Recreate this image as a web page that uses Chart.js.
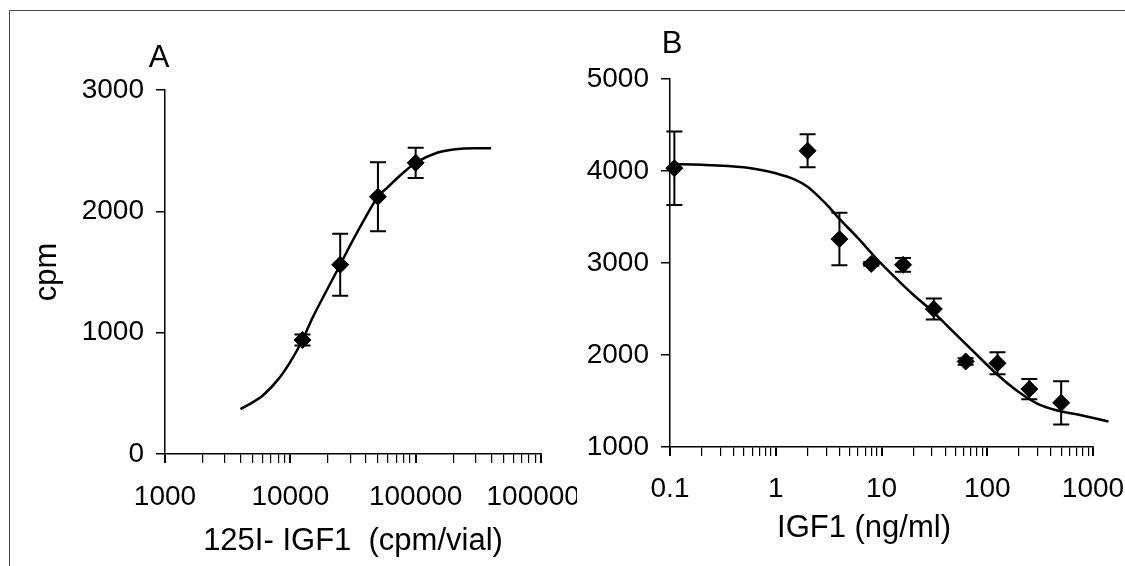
<!DOCTYPE html>
<html>
<head>
<meta charset="utf-8">
<script src="https://cdn.jsdelivr.net/npm/chart.js@4.4.0/dist/chart.umd.min.js"></script>
<style>
    html, body { margin: 0; padding: 0; background: #fff; }
    body { width: 1125px; height: 566px; position: relative; overflow: hidden; }
    .frame { position: absolute; left: 9px; top: 10px; right: 0; bottom: 0; border-top: 1.5px solid #4d4d4d; border-left: 1.5px solid #4d4d4d; }
    #chartA { position: absolute; left: 0; top: 0; }
    #chartB { position: absolute; left: 577px; top: 0; }
</style>
</head>
<body>
<div class="frame"></div>
<canvas id="chartA" width="577" height="566"></canvas>
<canvas id="chartB" width="548" height="566"></canvas>
<script>
// Panel A - binding vs added tracer
const tracerDose = [12500, 25000, 50000, 100000];
const tracerCpm = [940, 1560, 2120, 2400];
const tracerErr = [45, 255, 285, 125];
const tracerFitX = [4000, 5000, 6000, 8000, 10000, 12500, 15000, 20000, 25000, 30000, 40000, 50000, 60000, 80000, 100000, 150000, 200000, 300000, 400000];
const tracerFitY = [370, 425, 480, 615, 760, 940, 1120, 1370, 1560, 1720, 1955, 2120, 2200, 2320, 2400, 2485, 2510, 2520, 2520];

// Panel B - displacement by unlabelled IGF1
const igfDose = [0.11, 2, 4, 8, 16, 31.25, 62.5, 125, 250, 500];
const igfCpm = [4030, 4220, 3260, 2990, 2980, 2500, 1930, 1910, 1630, 1480];
const igfErr = [400, 180, 285, 20, 75, 115, 35, 120, 110, 235];
const igfFitX = [0.1, 0.2, 0.5, 0.75, 1, 1.5, 2, 3, 4, 6, 8, 10, 15, 20, 30, 50, 80, 125, 200, 300, 450, 700, 1400];
const igfFitY = [4075, 4068, 4040, 4008, 3975, 3910, 3830, 3640, 3480, 3270, 3110, 2990, 2790, 2655, 2480, 2230, 2000, 1785, 1595, 1470, 1400, 1355, 1278];

// axis ticks
const xTicksA = [1000, 10000, 100000, 1000000];
const xLabelsA = ["1000", "10000", "100000", "1000000"];
const yTicksA = [0, 1000, 2000, 3000];
const xTicksB = [0.1, 1, 10, 100, 1000];
const xLabelsB = ["0.1", "1", "10", "100", "1000"];
const yTicksB = [1000, 2000, 3000, 4000, 5000];

const FONT = '"Liberation Sans", Arial, sans-serif';
Chart.defaults.font.family = FONT;
Chart.defaults.color = "#000";

// decades plus the 2..9 minor ticks in between
const logTicks = (decades) => {
    const out = [];
    decades.forEach((d, i) => {
        out.push({ value: d });
        if (i < decades.length - 1) {
            for (let m = 2; m <= 9; m++) out.push({ value: d * m });
        }
    });
    return out;
};

const errorBars = {
    id: "errorBars",
    afterDatasetsDraw(chart, args, opts) {
        const { ctx, scales: { x, y } } = chart;
        ctx.save();
        ctx.strokeStyle = "#000";
        ctx.lineWidth = 2;
        opts.xs.forEach((xv, i) => {
            const px = x.getPixelForValue(xv);
            const top = y.getPixelForValue(opts.ys[i] + opts.errs[i]);
            const bot = y.getPixelForValue(opts.ys[i] - opts.errs[i]);
            ctx.beginPath();
            ctx.moveTo(px, top); ctx.lineTo(px, bot);
            ctx.moveTo(px - 8, top); ctx.lineTo(px + 8, top);
            ctx.moveTo(px - 8, bot); ctx.lineTo(px + 8, bot);
            ctx.stroke();
        });
        ctx.restore();
    }
};

const panelText = {
    id: "panelText",
    afterDraw(chart, args, opts) {
        const ctx = chart.ctx;
        ctx.save();
        ctx.fillStyle = "#000";
        ctx.textAlign = "center";
        ctx.textBaseline = "middle";
        opts.items.forEach(t => {
            ctx.font = t.size + "px " + FONT;
            ctx.fillText(t.text, t.x, t.y);
        });
        ctx.restore();
    }
};

const makePanel = (canvasId, cfg) => {
    const isDecade = v => cfg.xTicks.includes(v);
    return new Chart(document.getElementById(canvasId), {
        type: "line",
        data: {
            datasets: [
                {
                    data: cfg.fitX.map((v, i) => ({ x: v, y: cfg.fitY[i] })),
                    borderColor: "#000",
                    borderWidth: 2.5,
                    pointRadius: 0,
                    cubicInterpolationMode: "monotone",
                    clip: false
                },
                {
                    data: cfg.xs.map((v, i) => ({ x: v, y: cfg.ys[i] })),
                    showLine: false,
                    pointStyle: "rectRot",
                    pointRadius: 8.5,
                    backgroundColor: "#000",
                    borderColor: "#000",
                    borderWidth: 1,
                    clip: false
                }
            ]
        },
        options: {
            responsive: false,
            animation: false,
            layout: { padding: { top: cfg.top, right: cfg.right, left: 0, bottom: 0 } },
            plugins: {
                legend: { display: false },
                tooltip: { enabled: false },
                errorBars: { xs: cfg.xs, ys: cfg.ys, errs: cfg.errs },
                panelText: { items: cfg.texts }
            },
            scales: {
                x: {
                    type: "logarithmic",
                    min: cfg.xTicks[0],
                    max: cfg.xTicks[cfg.xTicks.length - 1],
                    afterBuildTicks: s => { s.ticks = logTicks(cfg.xTicks); },
                    afterFit: s => { s.height = cfg.xHeight; s.paddingRight = 0; s.paddingLeft = 0; },
                    border: { display: true, color: "#000", width: 1.5 },
                    grid: {
                        drawOnChartArea: false,
                        drawTicks: true,
                        tickLength: 9,
                        color: "#000",
                        lineWidth: c => (c.tick && isDecade(c.tick.value)) ? 2 : 1.2
                    },
                    ticks: {
                        autoSkip: false,
                        maxRotation: 0,
                        minRotation: 0,
                        padding: cfg.xPad,
                        font: { size: 28 },
                        callback: v => {
                            const i = cfg.xTicks.indexOf(v);
                            return i >= 0 ? cfg.xLabels[i] : "";
                        }
                    },
                    title: cfg.xTitle
                },
                y: {
                    type: "linear",
                    min: cfg.yTicks[0],
                    max: cfg.yTicks[cfg.yTicks.length - 1],
                    afterBuildTicks: s => { s.ticks = cfg.yTicks.map(v => ({ value: v })); },
                    afterFit: s => { s.width = cfg.yWidth; },
                    border: { display: true, color: "#000", width: 1.5 },
                    grid: { drawOnChartArea: false, drawTicks: true, tickLength: 9, color: "#000", lineWidth: 1.5 },
                    ticks: { autoSkip: false, padding: 12, font: { size: 28 }, callback: v => String(v) },
                    title: cfg.yTitle
                }
            }
        },
        plugins: [errorBars, panelText]
    });
};

makePanel("chartA", {
    xs: tracerDose, ys: tracerCpm, errs: tracerErr,
    fitX: tracerFitX, fitY: tracerFitY,
    xTicks: xTicksA, xLabels: xLabelsA, yTicks: yTicksA,
    top: 90, right: 36, xHeight: 112, yWidth: 165, xPad: 17,
    xTitle: { display: true, text: "125I- IGF1  (cpm/vial)", font: { size: 31 }, padding: { top: 0, bottom: 6 } },
    yTitle: { display: true, text: "cpm", font: { size: 31 }, padding: { top: 29, bottom: 0 } },
    texts: [{ text: "A", x: 159, y: 58, size: 31 }]
});

makePanel("chartB", {
    xs: igfDose, ys: igfCpm, errs: igfErr,
    fitX: igfFitX, fitY: igfFitY,
    xTicks: xTicksB, xLabels: xLabelsB, yTicks: yTicksB,
    top: 79, right: 32, xHeight: 119, yWidth: 93, xPad: 16,
    xTitle: { display: false },
    yTitle: { display: false },
    texts: [
        { text: "B", x: 95, y: 44, size: 31 },
        { text: "IGF1 (ng/ml)", x: 287, y: 528, size: 31 }
    ]
});
</script>
</body>
</html>
